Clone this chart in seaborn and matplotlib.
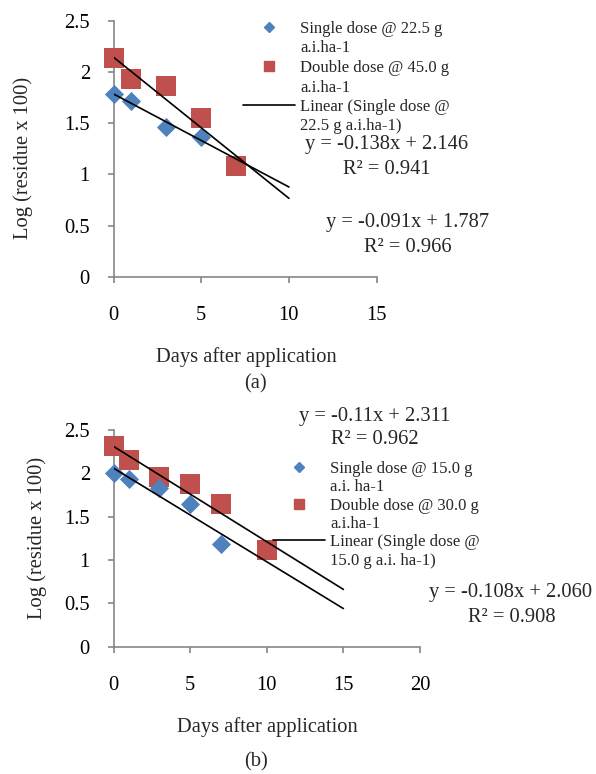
import matplotlib
matplotlib.use("Agg")
import numpy as np
import pandas as pd
import matplotlib.pyplot as plt
import seaborn as sns
from matplotlib.lines import Line2D

# panel (a) data
a_days_single = [0, 1, 3, 5]
a_log_single = [1.79, 1.72, 1.46, 1.37]
a_days_double = [0, 1, 3, 5, 7]
a_log_double = [2.14, 1.93, 1.86, 1.55, 1.08]
a_fit_single = [-0.091, 1.787]
a_fit_double = [-0.138, 2.146]
a_fit_range = [0, 10]
a_xticks = [0, 5, 10, 15]

# panel (b) data
b_days_single = [0, 1, 3, 5, 7]
b_log_single = [2.00, 1.93, 1.83, 1.65, 1.19]
b_days_double = [0, 1, 3, 5, 7, 10]
b_log_double = [2.32, 2.15, 1.96, 1.88, 1.65, 1.12]
b_fit_single = [-0.108, 2.060]
b_fit_double = [-0.11, 2.311]
b_fit_range = [0, 15]
b_xticks = [0, 5, 10, 15, 20]

yticks = [0, 0.5, 1, 1.5, 2, 2.5]

a_labels = ["Single dose @ 22.5 g", "a.i.ha-1", "Double dose @ 45.0 g", "a.i.ha-1",
            "Linear (Single dose @", "22.5 g a.i.ha-1)"]
b_labels = ["Single dose @ 15.0 g", "a.i. ha-1", "Double dose @ 30.0 g", "a.i.ha-1",
            "Linear (Single dose @", "15.0 g a.i. ha-1)"]

sns.set_theme(style="white")
plt.rcParams['font.family'] = ['Liberation Serif', 'DejaVu Serif']

blue = '#4F81BD'
red = '#C0504D'
grey = '#868686'
FS = 14.8

W, H = 596, 774
fig = plt.figure(figsize=(W / 100, H / 100), dpi=100)


def px_axes(left, top, right, bottom):
    return fig.add_axes([left / W, 1 - bottom / H, (right - left) / W, (bottom - top) / H])


def draw_panel(ax, ds, ls, dd, ld, fit_s, fit_d, rng, xticks):
    sns.scatterplot(x=dd, y=ld, ax=ax, marker='s', s=200, color=red, linewidth=0,
                    zorder=3, clip_on=False)
    sns.scatterplot(x=ds, y=ls, ax=ax, marker='D', s=95, color=blue, linewidth=0,
                    zorder=3, clip_on=False)
    xs = np.array(rng, dtype=float)
    for m, c in (fit_s, fit_d):
        sns.lineplot(x=xs, y=m * xs + c, ax=ax, color='black', linewidth=1.2, zorder=4)
    ax.set_xlim(xticks[0], xticks[-1])
    ax.set_ylim(0, 2.5)
    ax.set_xticks(xticks)
    ax.set_yticks(yticks)
    ax.set_yticklabels([f"{v:g}" for v in yticks])
    for s in ('top', 'right'):
        ax.spines[s].set_visible(False)
    for s in ('left', 'bottom'):
        ax.spines[s].set_color(grey)
        ax.spines[s].set_linewidth(1.2)
    ax.tick_params(axis='both', direction='out', length=4, width=1.2, color=grey,
                   labelsize=FS, labelcolor='black', left=True, bottom=True)
    ax.tick_params(axis='x', pad=17)
    ax.tick_params(axis='y', pad=13)
    ax.set_xlabel("")
    ax.set_ylabel("")


ax_a = px_axes(113.5, 21, 376.7, 276.7)
draw_panel(ax_a, a_days_single, a_log_single, a_days_double, a_log_double,
           a_fit_single, a_fit_double, a_fit_range, a_xticks)
ax_b = px_axes(113.5, 430, 420, 646.7)
draw_panel(ax_b, b_days_single, b_log_single, b_days_double, b_log_double,
           b_fit_single, b_fit_double, b_fit_range, b_xticks)


def ftext(x, y, s, **kw):
    fig.text(x / W, 1 - y / H, s, ha='center', va='center', **kw)


ftext(23, 158, "Log (residue x 100)", rotation=90, fontsize=FS)
ftext(37, 538, "Log (residue x 100)", rotation=90, fontsize=FS)
ftext(246, 357, "Days after application", fontsize=FS)
ftext(267, 727, "Days after application", fontsize=FS)
ftext(255, 384, "(a)", fontsize=FS)
ftext(256, 762, "(b)", fontsize=FS)

# trendline equations
ftext(387, 145, "y = -0.138x + 2.146", fontsize=FS)
ftext(387, 170, "R² = 0.941", fontsize=FS)
ftext(408, 222, "y = -0.091x + 1.787", fontsize=FS)
ftext(408, 247, "R² = 0.966", fontsize=FS)
ftext(375, 416, "y = -0.11x + 2.311", fontsize=FS)
ftext(375, 440, "R² = 0.962", fontsize=FS)
ftext(511, 592, "y = -0.108x + 2.060", fontsize=FS)
ftext(512, 617, "R² = 0.908", fontsize=FS)


def handles():
    blank = Line2D([], [], linestyle='none')
    return [Line2D([], [], marker='D', color=blue, linestyle='none', markersize=4.8), blank,
            Line2D([], [], marker='s', color=red, linestyle='none', markersize=7), blank,
            Line2D([], [], color='black', linewidth=1.2), blank]


leg_kw = dict(loc='upper left', frameon=False, fontsize=12, borderpad=0, borderaxespad=0,
              handlelength=3.1, handletextpad=0.35)
fig.legend(handles(), a_labels, bbox_to_anchor=(243 / W, 1 - 21 / H), labelspacing=0.21,
           **leg_kw)
fig.legend(handles(), b_labels, bbox_to_anchor=(273 / W, 1 - 461 / H), labelspacing=0.14,
           **leg_kw)

fig.savefig("out.png", dpi=100)
